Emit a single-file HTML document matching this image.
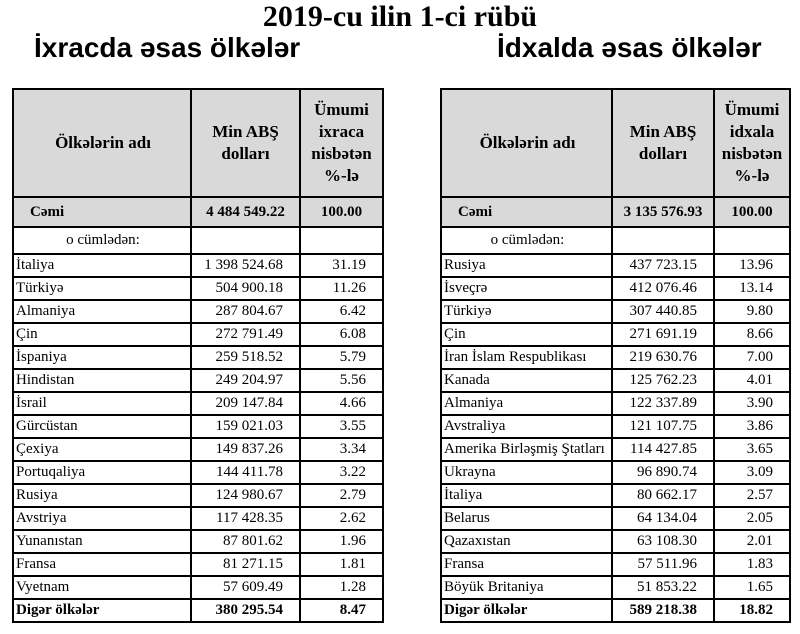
<!DOCTYPE html>
<html><head><meta charset="utf-8"><style>
body{margin:0;width:800px;height:634px;background:#fff;position:relative;overflow:hidden;font-family:"Liberation Serif",serif;}
.t{position:absolute;left:0;width:800px;text-align:center;font-weight:bold;}
table{position:absolute;border-collapse:collapse;table-layout:fixed;}
td{border:2px solid #000;padding:0;font-size:15px;height:21px;line-height:21px;white-space:nowrap;overflow:hidden;}
.h td{background:#d9d9d9;font-weight:bold;font-size:17px;text-align:center;height:106px;line-height:22px;}
.c td{background:#d9d9d9;font-weight:bold;height:28px;}
.s td{height:25px;}
.n{text-align:right;padding-right:16px;}
.p{text-align:right;padding-right:16px;}
.b td{font-weight:bold;}
td:first-child{padding-left:2px;}
</style></head><body>
<div class="t" style="top:0px;font-size:30px;">2019-cu ilin 1-ci rübü</div>
<div style="position:absolute;top:32px;left:34px;font-family:'Liberation Sans',sans-serif;font-weight:bold;font-size:28px;">İxracda əsas ölkələr</div>
<div style="position:absolute;top:32px;left:497px;font-family:'Liberation Sans',sans-serif;font-weight:bold;font-size:28px;">İdxalda əsas ölkələr</div>

<table style="left:12px;top:88px;width:370px;">
<colgroup><col style="width:178px"><col style="width:109px"><col style="width:83px"></colgroup>
<tr class="h"><td>Ölkələrin adı</td><td>Min ABŞ<br>dolları</td><td>Ümumi<br>ixraca<br>nisbətən<br>%-lə</td></tr>
<tr class="c"><td style="padding-left:16px">Cəmi</td><td style="text-align:center">4 484 549.22</td><td style="text-align:center">100.00</td></tr>
<tr class="s"><td style="text-align:center">o cümlədən:</td><td></td><td></td></tr>
<tr><td>İtaliya</td><td class="n">1 398 524.68</td><td class="p">31.19</td></tr>
<tr><td>Türkiyə</td><td class="n">504 900.18</td><td class="p">11.26</td></tr>
<tr><td>Almaniya</td><td class="n">287 804.67</td><td class="p">6.42</td></tr>
<tr><td>Çin</td><td class="n">272 791.49</td><td class="p">6.08</td></tr>
<tr><td>İspaniya</td><td class="n">259 518.52</td><td class="p">5.79</td></tr>
<tr><td>Hindistan</td><td class="n">249 204.97</td><td class="p">5.56</td></tr>
<tr><td>İsrail</td><td class="n">209 147.84</td><td class="p">4.66</td></tr>
<tr><td>Gürcüstan</td><td class="n">159 021.03</td><td class="p">3.55</td></tr>
<tr><td>Çexiya</td><td class="n">149 837.26</td><td class="p">3.34</td></tr>
<tr><td>Portuqaliya</td><td class="n">144 411.78</td><td class="p">3.22</td></tr>
<tr><td>Rusiya</td><td class="n">124 980.67</td><td class="p">2.79</td></tr>
<tr><td>Avstriya</td><td class="n">117 428.35</td><td class="p">2.62</td></tr>
<tr><td>Yunanıstan</td><td class="n">87 801.62</td><td class="p">1.96</td></tr>
<tr><td>Fransa</td><td class="n">81 271.15</td><td class="p">1.81</td></tr>
<tr><td>Vyetnam</td><td class="n">57 609.49</td><td class="p">1.28</td></tr>
<tr class="b"><td>Digər ölkələr</td><td class="n">380 295.54</td><td class="p">8.47</td></tr>
</table>

<table style="left:440px;top:88px;width:349px;">
<colgroup><col style="width:171px"><col style="width:102px"><col style="width:76px"></colgroup>
<tr class="h"><td>Ölkələrin adı</td><td>Min ABŞ<br>dolları</td><td>Ümumi<br>idxala<br>nisbətən<br>%-lə</td></tr>
<tr class="c"><td style="padding-left:16px">Cəmi</td><td style="text-align:center">3 135 576.93</td><td style="text-align:center">100.00</td></tr>
<tr class="s"><td style="text-align:center">o cümlədən:</td><td></td><td></td></tr>
<tr><td>Rusiya</td><td class="n">437 723.15</td><td class="p">13.96</td></tr>
<tr><td>İsveçrə</td><td class="n">412 076.46</td><td class="p">13.14</td></tr>
<tr><td>Türkiyə</td><td class="n">307 440.85</td><td class="p">9.80</td></tr>
<tr><td>Çin</td><td class="n">271 691.19</td><td class="p">8.66</td></tr>
<tr><td>İran İslam Respublikası</td><td class="n">219 630.76</td><td class="p">7.00</td></tr>
<tr><td>Kanada</td><td class="n">125 762.23</td><td class="p">4.01</td></tr>
<tr><td>Almaniya</td><td class="n">122 337.89</td><td class="p">3.90</td></tr>
<tr><td>Avstraliya</td><td class="n">121 107.75</td><td class="p">3.86</td></tr>
<tr><td>Amerika Birləşmiş Ştatları</td><td class="n">114 427.85</td><td class="p">3.65</td></tr>
<tr><td>Ukrayna</td><td class="n">96 890.74</td><td class="p">3.09</td></tr>
<tr><td>İtaliya</td><td class="n">80 662.17</td><td class="p">2.57</td></tr>
<tr><td>Belarus</td><td class="n">64 134.04</td><td class="p">2.05</td></tr>
<tr><td>Qazaxıstan</td><td class="n">63 108.30</td><td class="p">2.01</td></tr>
<tr><td>Fransa</td><td class="n">57 511.96</td><td class="p">1.83</td></tr>
<tr><td>Böyük Britaniya</td><td class="n">51 853.22</td><td class="p">1.65</td></tr>
<tr class="b"><td>Digər ölkələr</td><td class="n">589 218.38</td><td class="p">18.82</td></tr>
</table>
</body></html>
